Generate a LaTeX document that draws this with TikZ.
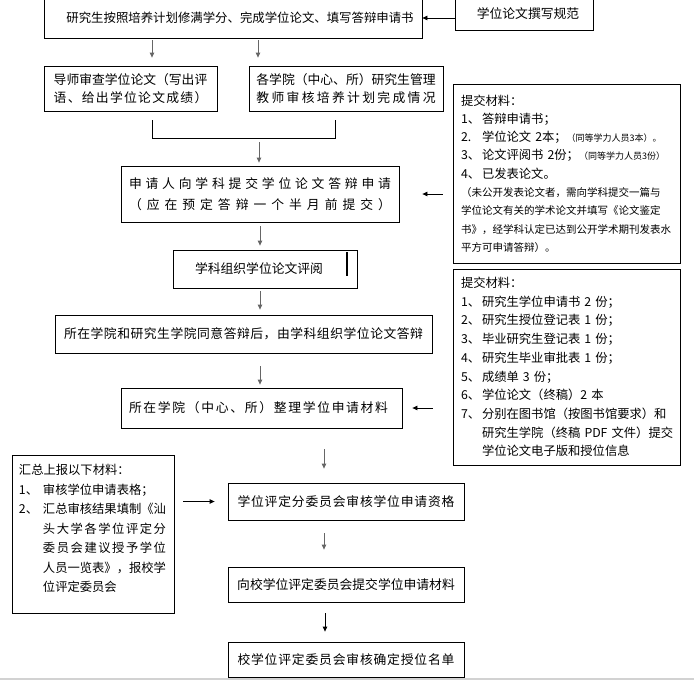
\documentclass[tikz,border=0pt]{standalone}
\usepackage{fontspec}
\setmainfont{Noto Sans CJK SC}
\usetikzlibrary{arrows.meta}
\def\sprd#1{\sprdA#1\relax}
\def\sprdA#1{\ifx\relax#1\else#1\expandafter\sprdB\fi}
\def\sprdB#1{\ifx\relax#1\else\hfill#1\expandafter\sprdB\fi}
\newcommand\sprto[2]{\hbox to #1{\sprd{#2}}}
\newcommand\sprlike[2]{\setbox0=\hbox{#1}\hbox to \wd0{\sprd{#2}}}
\newcommand\num[1]{\makebox[21pt][l]{#1}}
\newcommand\numL[1]{\makebox[24pt][l]{#1}}
\tikzset{
  box/.style={draw, line width=0.8pt, inner sep=0pt, align=center, font=\fontsize{12.8}{18}\selectfont},
  side/.style={draw, line width=0.8pt, inner sep=0pt, align=left, text width=211pt},
  garr/.style={draw=gray!80!black, line width=0.8pt, -{Triangle[length=5pt,width=4.5pt]}},
  barr/.style={draw=black, line width=0.8pt, -{Triangle[length=5pt,width=4.5pt]}},
  plain/.style={draw=black, line width=0.8pt}
}
\begin{document}
\begin{tikzpicture}[x=1pt,y=-1pt]
\useasboundingbox (0,0) rectangle (694,680);
% main boxes
\node[box, minimum width=378pt, minimum height=40pt, font=\fontsize{12.4}{18}\selectfont] (A) at (233,18)
  {\hspace*{14pt}研究生按照培养计划修满学分、完成学位论文、填写答辩申请书};
\node[box, minimum width=138pt, minimum height=32pt] (B) at (524,14)
  {\hspace*{8pt}学位论文撰写规范};
\node[box, minimum width=173pt, minimum height=45pt] (C) at (130.5,88.5)
  {导师审查学位论文（写出评\\\sprlike{导师审查学位论文（写出评}{语、给出学位论文成绩）}};
\node[box, minimum width=194pt, minimum height=45pt] (D) at (346,88.5)
  {各学院（中心、所）研究生管理\\\sprlike{各学院（中心、所）研究生管理}{教师审核培养计划完成情况}};
\node[box, minimum width=278pt, minimum height=56pt, font=\fontsize{12.8}{21}\selectfont] (E) at (260,194)
  {\sprto{262pt}{申请人向学科提交学位论文答辩申请}\\\sprto{262pt}{（应在预定答辩一个半月前提交）}};
\node[box, minimum width=184pt, minimum height=38pt] (F) at (265,269)
  {\hspace*{-12pt}学科组织学位论文评阅};
\node[box, minimum width=377pt, minimum height=38pt] (G) at (243.5,334)
  {\sprto{359pt}{所在学院和研究生学院同意答辩后，由学科组织学位论文答辩}};
\node[box, minimum width=281pt, minimum height=40pt] (H) at (261.5,408)
  {\hspace*{-6pt}\sprto{259pt}{所在学院（中心、所）整理学位申请材料}};
\node[box, minimum width=236pt, minimum height=37pt] (I) at (346,501.5)
  {\sprto{217pt}{学位评定分委员会审核学位申请资格}};
\node[box, minimum width=236pt, minimum height=35pt] (J) at (346,584.5)
  {向校学位评定委员会提交学位申请材料};
\node[box, minimum width=236pt, minimum height=35pt] (K) at (346,659.5)
  {\sprto{217pt}{校学位评定委员会审核确定授位名单}};
% side boxes
\node[side, minimum width=227pt, minimum height=179pt, font=\fontsize{12.3}{18.3}\selectfont] (R1) at (566.5,173.5)
  {提交材料：\\
   \num{1、}答辩申请书；\\
   \num{2.}学位论文 2本；{\fontsize{9}{18.3}\selectfont（同等学力人员3本）。}\\
   \num{3、}论文评阅书 2份；{\fontsize{9}{18.3}\selectfont（同等学力人员3份）}\\
   \num{4、}已发表论文。\\
   {\fontsize{10.5}{18.3}\selectfont（未公开发表论文者，需向学科提交一篇与}\\
   {\fontsize{10.5}{18.3}\selectfont 学位论文有关的学术论文并填写《论文鉴定}\\
   {\fontsize{10.5}{18.3}\selectfont 书》，经学科认定已达到公开学术期刊发表水}\\
   {\fontsize{10.5}{18.3}\selectfont 平方可申请答辩）。}};
\node[side, minimum width=227pt, minimum height=196pt, font=\fontsize{12.3}{18.7}\selectfont] (R2) at (566.5,367)
  {提交材料：\\
   \num{1、}研究生学位申请书 2 份；\\
   \num{2、}研究生授位登记表 1 份；\\
   \num{3、}毕业研究生登记表 1 份；\\
   \num{4、}研究生毕业审批表 1 份；\\
   \num{5、}成绩单 3 份；\\
   \num{6、}学位论文（终稿）2 本\\
   \num{7、}分别在图书馆（按图书馆要求）和\\
   \hspace*{21pt}\setbox0=\hbox{分别在图书馆（按图书馆要求）和}\hbox to \wd0{研究生学院（终稿 PDF 文件）提交}\\
   \hspace*{21pt}学位论文电子版和授位信息};
\node[side, text width=148pt, minimum width=162pt, minimum height=158pt, font=\fontsize{12.3}{19.5}\selectfont] (L) at (93,534)
  {汇总上报以下材料：\\
   \numL{1、}审核学位申请表格；\\
   \numL{2、}汇总审核结果填制《汕\\
   \hspace*{24pt}\sprlike{汇总审核结果填制《汕}{头大学各学位评定分}\\
   \hspace*{24pt}\sprlike{汇总审核结果填制《汕}{委员会建议授予学位}\\
   \hspace*{24pt}\sprlike{汇总审核结果填制《汕}{人员一览表》，报校学}\\
   \hspace*{24pt}位评定委员会\\[-7.5pt]\mbox{}};
% helper coordinates
\coordinate (xa) at (152,0);
\coordinate (xb) at (258,0);
\coordinate (xc) at (324,0);
\coordinate (xe) at (325,0);
\coordinate (bl) at (152,120);
\coordinate (br) at (335,120);
\coordinate (bm) at (259,142);
% connectors
\draw[barr] (B.west |- A.east) -- (A.east);
\draw[garr, shorten <=2pt, shorten >=8pt] (A.south -| xa) -- (C.north -| xa);
\draw[garr, shorten <=2pt, shorten >=8pt] (A.south -| xb) -- (D.north -| xb);
\draw[plain] (bl) -- ++(0,18) -| (br);
\draw[garr, shorten >=3pt] (bm) -- (bm |- E.north);
\draw[barr, shorten <=10pt, shorten >=23pt] (R1.west |- E.east) -- (E.east);
\draw[garr, shorten <=4pt, shorten >=4pt] (E.south) -- (E.south |- F.north);
\draw[garr, shorten <=3pt, shorten >=5pt] (E.south |- F.south) -- (E.south |- G.north);
\draw[garr, shorten <=13pt, shorten >=3pt] (E.south |- G.south) -- (E.south |- H.north);
\draw[barr, shorten <=20pt, shorten >=10pt] (R2.west |- H.east) -- (H.east);
\draw[garr, shorten <=21pt, shorten >=14pt] (H.south -| xc) -- (I.north -| xc);
\draw[barr, shorten <=9pt, shorten >=13pt] (L.east |- I.west) -- (I.west);
\draw[garr, shorten <=13pt, shorten >=17pt] (I.south -| xc) -- (J.north -| xc);
\draw[barr, shorten <=11pt, shorten >=10pt] (J.south -| xe) -- (K.north -| xe);
% decorations
\draw[line width=1.6pt] (347,252) -- (347,276);
\fill[gray!35] (0,678) rectangle (694,681);
\end{tikzpicture}
\end{document}
